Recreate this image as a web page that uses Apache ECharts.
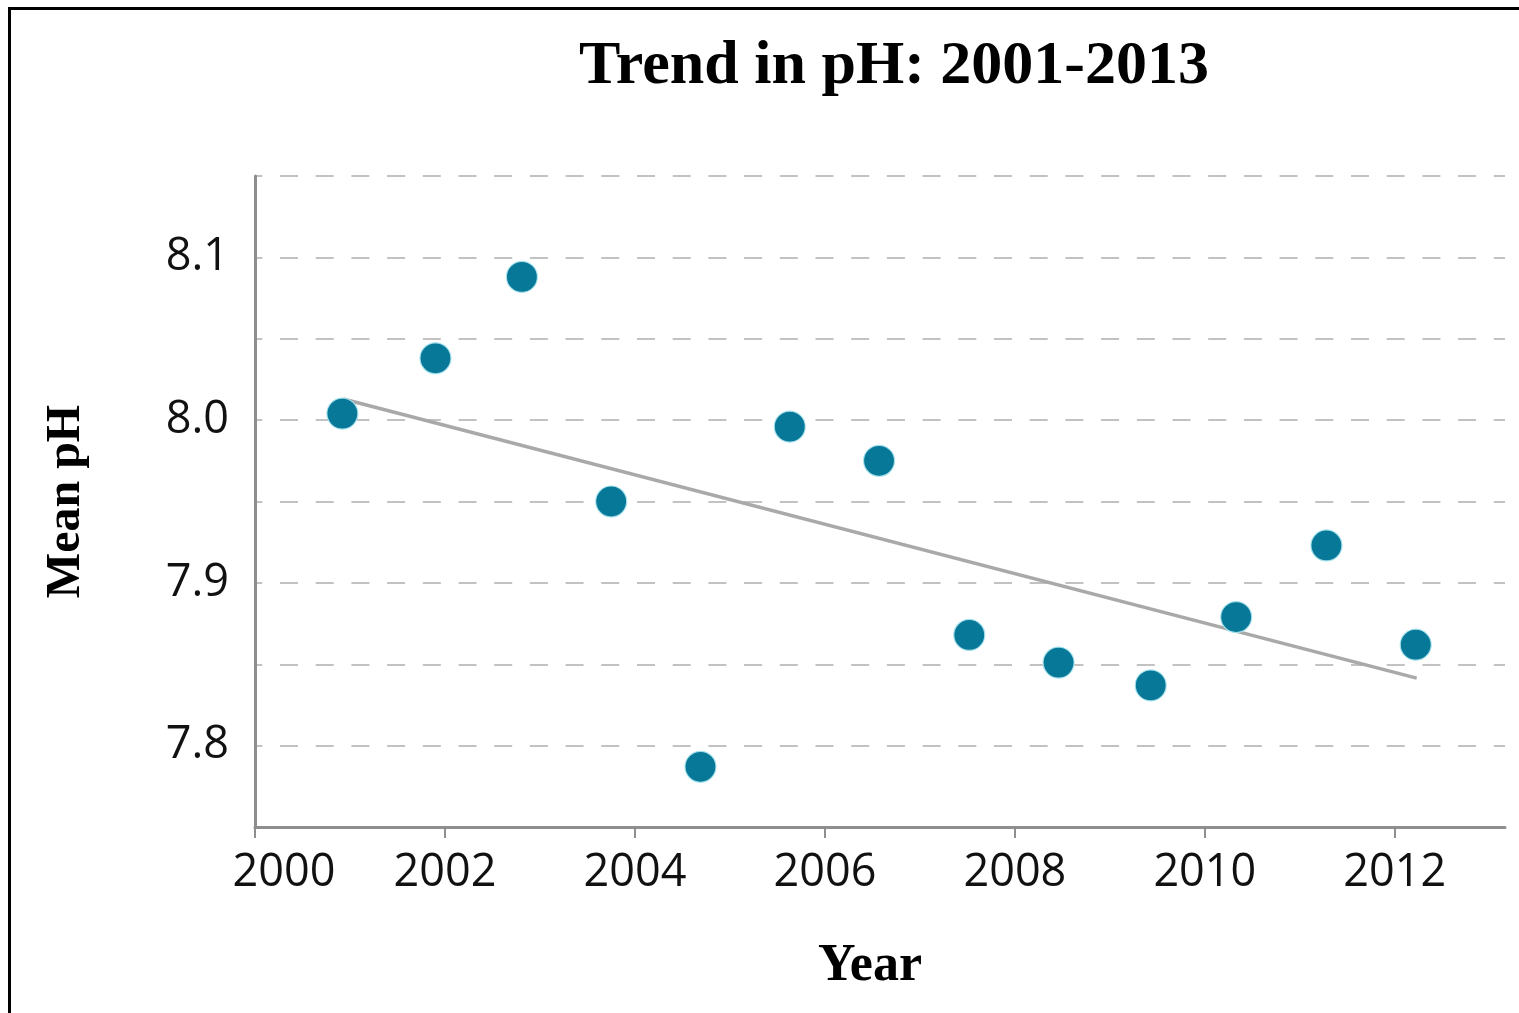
<!DOCTYPE html>
<html>
<head>
<meta charset="utf-8">
<title>Trend in pH: 2001-2013</title>
<script src="https://cdn.jsdelivr.net/npm/echarts@6/dist/echarts.min.js"></script>
<style>
  html, body { margin: 0; padding: 0; background: #ffffff; }
  #chart { position: absolute; left: 0; top: 0; width: 1519px; height: 1013px; }
  #frame { position: absolute; left: 8px; top: 7px; width: 1530px; height: 1030px;
           border-left: 3px solid #000; border-top: 3px solid #000; pointer-events: none; }
</style>
</head>
<body>
<div id="chart"></div>
<div id="frame"></div>
<script>
// ---- data ----
const years = [2000.92, 2001.90, 2002.81, 2003.75, 2004.69, 2005.63, 2006.57, 2007.52, 2008.46, 2009.43, 2010.33, 2011.28, 2012.22];
const meanPH = [8.004, 8.038, 8.088, 7.950, 7.787, 7.996, 7.975, 7.868, 7.851, 7.837, 7.879, 7.923, 7.862];
const trendYears = [2000.93, 2012.23];
const trendPH = [8.013, 7.8415];
const xTickYears = [2000, 2002, 2004, 2006, 2008, 2010, 2012];
const yLabelValues = [7.8, 7.9, 8.0, 8.1];

const chart = echarts.init(document.getElementById('chart'), null, { renderer: 'canvas' });

const scatterData = years.map((y, i) => [y, meanPH[i]]);
const trendData = trendYears.map((y, i) => [y, trendPH[i]]);

const axisGray = '#8e8e8e';
const labelFont = '"Open Sans", sans-serif';

chart.setOption({
  backgroundColor: '#ffffff',
  animation: false,
  title: {
    text: 'Trend in pH: 2001-2013',
    left: 889,
    textAlign: 'center',
    top: 31,
    textStyle: {
      fontFamily: '"Liberation Serif", serif',
      fontWeight: 'bold',
      fontSize: 62,
      color: '#000'
    }
  },
  grid: { left: 255, right: 14, top: 176, bottom: 186, containLabel: false },
  xAxis: {
    type: 'value',
    min: 2000,
    max: 2013.16,
    interval: 2,
    name: 'Year',
    nameLocation: 'middle',
    nameGap: 114,
    nameTextStyle: {
      fontFamily: '"Liberation Serif", serif',
      fontWeight: 'bold',
      fontSize: 52,
      color: '#000',
      padding: [0, 20, 0, 0]
    },
    axisLine: { show: true, onZero: false, lineStyle: { color: axisGray, width: 3 } },
    axisTick: { show: true, length: 11, customValues: xTickYears, lineStyle: { color: axisGray, width: 2 } },
    axisLabel: {
      margin: 24,
      fontFamily: labelFont,
      fontSize: 45,
      color: '#111',
      customValues: xTickYears,
      formatter: function (v) {
        const r = Math.round(v);
        if (Math.abs(v - r) > 1e-6 || xTickYears.indexOf(r) < 0) return '';
        return r === xTickYears[0] ? '{first|' + r + '}' : String(r);
      },
      rich: {
        first: { fontFamily: labelFont, fontSize: 45, color: '#111', padding: [0, 0, 0, 58] }
      }
    },
    splitLine: { show: false }
  },
  yAxis: {
    type: 'value',
    min: 7.75,
    max: 8.15,
    interval: 0.05,
    name: 'Mean pH',
    nameLocation: 'middle',
    nameGap: 164,
    nameRotate: 90,
    nameTextStyle: {
      fontFamily: '"Liberation Serif", serif',
      fontWeight: 'bold',
      fontSize: 48,
      color: '#000'
    },
    axisLine: { show: true, onZero: false, lineStyle: { color: axisGray, width: 3 } },
    axisTick: { show: false },
    axisLabel: {
      margin: 26,
      fontFamily: labelFont,
      fontSize: 45,
      color: '#111',
      formatter: function (v) {
        for (let i = 0; i < yLabelValues.length; i++) {
          if (Math.abs(v - yLabelValues[i]) < 1e-6) return yLabelValues[i].toFixed(1);
        }
        return '';
      }
    },
    splitLine: {
      show: true,
      lineStyle: { color: '#c2c2c2', width: 2, type: [18, 17.7], dashOffset: 10.7 }
    }
  },
  series: [
    {
      name: 'Trend',
      type: 'line',
      data: trendData,
      symbol: 'none',
      silent: true,
      z: 2,
      lineStyle: { color: '#a9a9a9', width: 3.5 }
    },
    {
      name: 'Mean pH',
      type: 'scatter',
      data: scatterData,
      symbol: 'circle',
      symbolSize: 31,
      z: 3,
      itemStyle: { color: '#077897', borderColor: 'rgba(170,228,240,0.9)', borderWidth: 1.2, opacity: 1 }
    }
  ]
});
</script>
</body>
</html>
